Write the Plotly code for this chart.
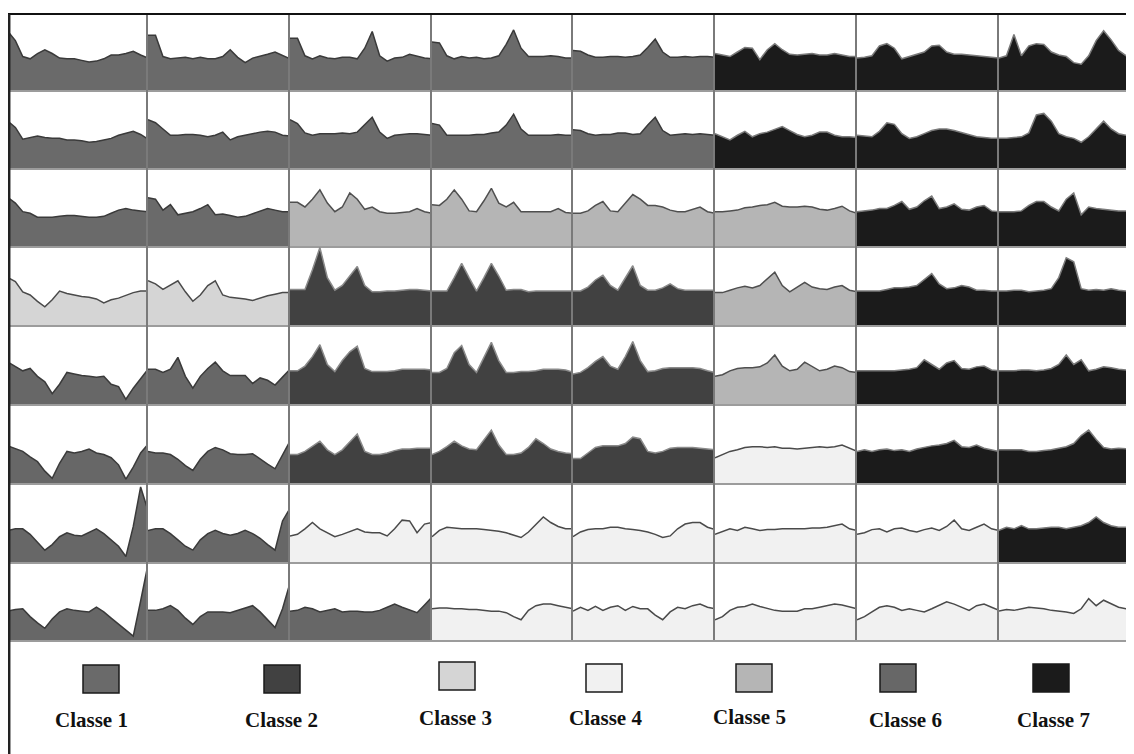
import plotly.graph_objects as go

# ---------------- data ----------------
class_names = ["Classe 1", "Classe 2", "Classe 3", "Classe 4", "Classe 5", "Classe 6", "Classe 7"]
class_fill = ["#6a6a6a", "#414141", "#d5d5d5", "#f1f1f1", "#b5b5b5", "#676767", "#1b1b1b"]
class_line = ["#3a3a3a", "#8a8a8a", "#4a4a4a", "#4a4a4a", "#4f4f4f", "#3a3a3a", "#7a7a7a"]

# class of each map cell (row by row)
cell_class = [
    [1, 1, 1, 1, 1, 7, 7, 7],
    [1, 1, 1, 1, 1, 7, 7, 7],
    [1, 1, 5, 5, 5, 5, 7, 7],
    [3, 3, 2, 2, 2, 5, 7, 7],
    [6, 6, 2, 2, 2, 5, 7, 7],
    [6, 6, 2, 2, 2, 4, 7, 7],
    [6, 6, 4, 4, 4, 4, 4, 7],
    [6, 6, 6, 4, 4, 4, 4, 4],
]

# profile of each cell (relative level, 20 samples)
row1_profiles = [
    [0.77, 0.65, 0.44, 0.41, 0.48, 0.53, 0.48, 0.42, 0.41, 0.41, 0.39, 0.37, 0.38, 0.41, 0.46, 0.46, 0.48, 0.51, 0.46, 0.42],
    [0.72, 0.72, 0.44, 0.41, 0.42, 0.43, 0.41, 0.43, 0.41, 0.41, 0.44, 0.53, 0.43, 0.36, 0.42, 0.44, 0.47, 0.50, 0.45, 0.41],
    [0.68, 0.68, 0.45, 0.41, 0.45, 0.42, 0.41, 0.43, 0.43, 0.41, 0.55, 0.77, 0.45, 0.38, 0.42, 0.43, 0.47, 0.44, 0.42, 0.41],
    [0.63, 0.62, 0.45, 0.41, 0.44, 0.42, 0.43, 0.41, 0.42, 0.45, 0.60, 0.79, 0.55, 0.44, 0.44, 0.44, 0.45, 0.44, 0.42, 0.42],
    [0.52, 0.51, 0.46, 0.43, 0.43, 0.44, 0.44, 0.43, 0.44, 0.46, 0.56, 0.67, 0.50, 0.43, 0.43, 0.44, 0.43, 0.44, 0.44, 0.43],
    [0.48, 0.46, 0.44, 0.50, 0.56, 0.55, 0.40, 0.53, 0.61, 0.53, 0.47, 0.46, 0.47, 0.48, 0.46, 0.46, 0.48, 0.46, 0.44, 0.44],
    [0.42, 0.43, 0.45, 0.58, 0.61, 0.55, 0.41, 0.44, 0.46, 0.50, 0.58, 0.59, 0.50, 0.47, 0.47, 0.46, 0.45, 0.44, 0.43, 0.42],
    [0.42, 0.45, 0.73, 0.45, 0.58, 0.61, 0.60, 0.50, 0.46, 0.44, 0.36, 0.34, 0.45, 0.65, 0.78, 0.66, 0.52, 0.45, 0.44, 0.42],
]
row2_profiles = [
    [0.60, 0.52, 0.37, 0.39, 0.41, 0.39, 0.38, 0.38, 0.36, 0.36, 0.35, 0.33, 0.34, 0.36, 0.38, 0.42, 0.45, 0.47, 0.43, 0.37],
    [0.62, 0.58, 0.50, 0.42, 0.42, 0.43, 0.43, 0.42, 0.40, 0.42, 0.46, 0.36, 0.40, 0.42, 0.44, 0.46, 0.47, 0.46, 0.42, 0.41],
    [0.62, 0.57, 0.45, 0.42, 0.44, 0.44, 0.44, 0.45, 0.44, 0.46, 0.55, 0.65, 0.46, 0.38, 0.42, 0.43, 0.44, 0.44, 0.43, 0.42],
    [0.57, 0.55, 0.42, 0.42, 0.42, 0.42, 0.43, 0.43, 0.45, 0.46, 0.55, 0.69, 0.50, 0.42, 0.42, 0.42, 0.42, 0.43, 0.42, 0.42],
    [0.49, 0.48, 0.44, 0.42, 0.43, 0.43, 0.45, 0.45, 0.43, 0.44, 0.55, 0.65, 0.48, 0.42, 0.43, 0.44, 0.43, 0.44, 0.43, 0.42],
    [0.44, 0.40, 0.36, 0.42, 0.47, 0.40, 0.44, 0.46, 0.50, 0.53, 0.48, 0.43, 0.40, 0.42, 0.46, 0.46, 0.42, 0.40, 0.40, 0.39],
    [0.42, 0.41, 0.40, 0.47, 0.58, 0.56, 0.44, 0.38, 0.40, 0.44, 0.48, 0.50, 0.50, 0.48, 0.45, 0.42, 0.40, 0.39, 0.38, 0.38],
    [0.38, 0.38, 0.39, 0.40, 0.45, 0.68, 0.70, 0.60, 0.44, 0.40, 0.38, 0.33, 0.40, 0.50, 0.60, 0.50, 0.44, 0.42, 0.41, 0.40],
]
row3_profiles = [
    [0.62, 0.55, 0.44, 0.42, 0.37, 0.37, 0.37, 0.38, 0.39, 0.39, 0.38, 0.37, 0.37, 0.38, 0.42, 0.46, 0.48, 0.46, 0.45, 0.44],
    [0.62, 0.60, 0.46, 0.53, 0.40, 0.42, 0.44, 0.48, 0.53, 0.40, 0.41, 0.39, 0.37, 0.38, 0.41, 0.44, 0.48, 0.46, 0.44, 0.44],
    [0.56, 0.56, 0.50, 0.60, 0.72, 0.55, 0.44, 0.50, 0.68, 0.60, 0.47, 0.50, 0.44, 0.42, 0.42, 0.43, 0.44, 0.48, 0.44, 0.42],
    [0.53, 0.52, 0.60, 0.72, 0.60, 0.45, 0.44, 0.58, 0.74, 0.55, 0.50, 0.56, 0.44, 0.44, 0.44, 0.44, 0.44, 0.48, 0.43, 0.42],
    [0.42, 0.42, 0.45, 0.52, 0.57, 0.45, 0.44, 0.55, 0.66, 0.60, 0.52, 0.52, 0.50, 0.46, 0.44, 0.44, 0.47, 0.50, 0.44, 0.42],
    [0.44, 0.44, 0.45, 0.46, 0.49, 0.50, 0.52, 0.53, 0.56, 0.51, 0.50, 0.50, 0.51, 0.50, 0.47, 0.46, 0.48, 0.51, 0.45, 0.42],
    [0.44, 0.45, 0.46, 0.48, 0.48, 0.52, 0.57, 0.47, 0.50, 0.58, 0.64, 0.48, 0.50, 0.54, 0.47, 0.46, 0.50, 0.52, 0.45, 0.44],
    [0.44, 0.44, 0.44, 0.45, 0.52, 0.57, 0.57, 0.50, 0.45, 0.60, 0.68, 0.40, 0.50, 0.48, 0.47, 0.46, 0.45, 0.45, 0.44, 0.44],
]
row4_profiles = [
    [0.60, 0.55, 0.42, 0.38, 0.30, 0.23, 0.32, 0.43, 0.40, 0.38, 0.36, 0.35, 0.33, 0.28, 0.32, 0.34, 0.38, 0.41, 0.43, 0.43],
    [0.56, 0.52, 0.45, 0.50, 0.56, 0.42, 0.30, 0.38, 0.50, 0.56, 0.38, 0.35, 0.34, 0.33, 0.31, 0.34, 0.37, 0.39, 0.41, 0.41],
    [0.45, 0.45, 0.45, 0.70, 0.98, 0.60, 0.44, 0.50, 0.62, 0.74, 0.50, 0.42, 0.42, 0.43, 0.43, 0.44, 0.45, 0.45, 0.44, 0.43],
    [0.43, 0.43, 0.43, 0.60, 0.78, 0.60, 0.43, 0.60, 0.78, 0.62, 0.44, 0.45, 0.45, 0.42, 0.43, 0.43, 0.43, 0.43, 0.43, 0.43],
    [0.43, 0.43, 0.48, 0.57, 0.63, 0.50, 0.44, 0.60, 0.75, 0.50, 0.44, 0.44, 0.47, 0.52, 0.46, 0.44, 0.44, 0.44, 0.44, 0.44],
    [0.41, 0.41, 0.44, 0.47, 0.49, 0.47, 0.50, 0.58, 0.67, 0.50, 0.42, 0.48, 0.54, 0.48, 0.46, 0.45, 0.48, 0.50, 0.44, 0.42],
    [0.43, 0.43, 0.43, 0.43, 0.45, 0.47, 0.47, 0.48, 0.50, 0.58, 0.65, 0.52, 0.46, 0.47, 0.50, 0.48, 0.44, 0.44, 0.43, 0.43],
    [0.43, 0.43, 0.44, 0.44, 0.42, 0.43, 0.44, 0.46, 0.60, 0.85, 0.80, 0.46, 0.44, 0.45, 0.44, 0.46, 0.44, 0.43, 0.43, 0.43],
]
row5_profiles = [
    [0.53, 0.48, 0.42, 0.45, 0.35, 0.28, 0.13, 0.25, 0.40, 0.38, 0.36, 0.35, 0.34, 0.35, 0.25, 0.22, 0.06, 0.20, 0.32, 0.44],
    [0.44, 0.44, 0.40, 0.44, 0.59, 0.35, 0.20, 0.35, 0.45, 0.53, 0.42, 0.36, 0.36, 0.36, 0.26, 0.33, 0.30, 0.24, 0.34, 0.44],
    [0.42, 0.42, 0.48, 0.60, 0.75, 0.50, 0.41, 0.55, 0.66, 0.73, 0.45, 0.41, 0.41, 0.41, 0.42, 0.44, 0.44, 0.44, 0.44, 0.43],
    [0.40, 0.40, 0.45, 0.65, 0.74, 0.50, 0.40, 0.60, 0.78, 0.55, 0.40, 0.40, 0.41, 0.41, 0.42, 0.44, 0.44, 0.44, 0.43, 0.40],
    [0.38, 0.40, 0.46, 0.54, 0.60, 0.48, 0.44, 0.60, 0.79, 0.55, 0.41, 0.42, 0.45, 0.46, 0.46, 0.46, 0.46, 0.45, 0.42, 0.40],
    [0.35, 0.37, 0.42, 0.45, 0.46, 0.46, 0.47, 0.52, 0.62, 0.48, 0.42, 0.44, 0.53, 0.47, 0.42, 0.44, 0.48, 0.46, 0.41, 0.40],
    [0.42, 0.42, 0.42, 0.42, 0.42, 0.42, 0.43, 0.44, 0.46, 0.56, 0.50, 0.44, 0.52, 0.55, 0.45, 0.44, 0.47, 0.48, 0.43, 0.42],
    [0.42, 0.42, 0.42, 0.43, 0.43, 0.42, 0.43, 0.45, 0.50, 0.62, 0.50, 0.56, 0.42, 0.44, 0.47, 0.46, 0.44, 0.43, 0.42, 0.42],
]
row6_profiles = [
    [0.47, 0.43, 0.40, 0.33, 0.27, 0.15, 0.06, 0.25, 0.40, 0.38, 0.40, 0.43, 0.38, 0.36, 0.32, 0.23, 0.05, 0.20, 0.38, 0.49],
    [0.40, 0.38, 0.38, 0.36, 0.30, 0.22, 0.16, 0.30, 0.40, 0.45, 0.42, 0.37, 0.36, 0.36, 0.37, 0.30, 0.24, 0.18, 0.36, 0.53],
    [0.36, 0.36, 0.40, 0.47, 0.53, 0.42, 0.36, 0.42, 0.52, 0.62, 0.40, 0.36, 0.36, 0.38, 0.41, 0.43, 0.43, 0.44, 0.44, 0.44],
    [0.36, 0.40, 0.46, 0.53, 0.47, 0.43, 0.42, 0.55, 0.67, 0.48, 0.36, 0.36, 0.38, 0.45, 0.56, 0.50, 0.43, 0.40, 0.38, 0.37],
    [0.31, 0.31, 0.38, 0.45, 0.47, 0.47, 0.47, 0.50, 0.58, 0.56, 0.40, 0.38, 0.40, 0.44, 0.45, 0.45, 0.45, 0.44, 0.43, 0.42],
    [0.32, 0.36, 0.40, 0.42, 0.45, 0.46, 0.46, 0.45, 0.46, 0.44, 0.44, 0.43, 0.44, 0.45, 0.46, 0.45, 0.46, 0.48, 0.44, 0.40],
    [0.40, 0.42, 0.40, 0.42, 0.43, 0.41, 0.42, 0.40, 0.43, 0.45, 0.47, 0.48, 0.50, 0.54, 0.46, 0.45, 0.48, 0.44, 0.42, 0.40],
    [0.42, 0.42, 0.42, 0.42, 0.40, 0.40, 0.41, 0.42, 0.44, 0.46, 0.50, 0.60, 0.67, 0.55, 0.45, 0.43, 0.44, 0.43, 0.42, 0.42],
]
row7_profiles = [
    [0.40, 0.42, 0.42, 0.35, 0.25, 0.15, 0.22, 0.32, 0.37, 0.34, 0.33, 0.37, 0.42, 0.36, 0.28, 0.20, 0.07, 0.45, 0.95, 0.65],
    [0.40, 0.42, 0.42, 0.36, 0.28, 0.20, 0.15, 0.28, 0.36, 0.40, 0.36, 0.34, 0.36, 0.40, 0.36, 0.30, 0.22, 0.15, 0.52, 0.68],
    [0.33, 0.35, 0.42, 0.50, 0.42, 0.37, 0.32, 0.35, 0.39, 0.42, 0.38, 0.37, 0.37, 0.33, 0.42, 0.53, 0.52, 0.37, 0.48, 0.50],
    [0.32, 0.40, 0.44, 0.43, 0.42, 0.42, 0.42, 0.41, 0.40, 0.39, 0.37, 0.34, 0.31, 0.38, 0.47, 0.57, 0.50, 0.45, 0.42, 0.42],
    [0.32, 0.38, 0.41, 0.42, 0.42, 0.44, 0.44, 0.42, 0.41, 0.40, 0.38, 0.35, 0.31, 0.33, 0.42, 0.48, 0.50, 0.50, 0.44, 0.41],
    [0.35, 0.38, 0.42, 0.40, 0.44, 0.42, 0.40, 0.41, 0.41, 0.42, 0.42, 0.42, 0.42, 0.43, 0.43, 0.44, 0.46, 0.48, 0.42, 0.40],
    [0.35, 0.37, 0.41, 0.42, 0.38, 0.42, 0.43, 0.40, 0.38, 0.41, 0.43, 0.40, 0.45, 0.53, 0.42, 0.40, 0.44, 0.48, 0.42, 0.40],
    [0.40, 0.44, 0.42, 0.46, 0.42, 0.42, 0.43, 0.44, 0.44, 0.42, 0.44, 0.46, 0.50, 0.57, 0.50, 0.46, 0.44, 0.44, 0.43, 0.42],
]
row8_profiles = [
    [0.37, 0.39, 0.40, 0.30, 0.22, 0.15, 0.27, 0.36, 0.40, 0.38, 0.37, 0.36, 0.42, 0.36, 0.28, 0.20, 0.12, 0.05, 0.50, 0.97],
    [0.38, 0.38, 0.40, 0.44, 0.38, 0.28, 0.20, 0.30, 0.36, 0.36, 0.36, 0.35, 0.38, 0.41, 0.44, 0.36, 0.26, 0.16, 0.40, 0.73],
    [0.37, 0.38, 0.42, 0.40, 0.36, 0.38, 0.40, 0.36, 0.37, 0.37, 0.36, 0.36, 0.38, 0.42, 0.46, 0.42, 0.38, 0.35, 0.45, 0.55],
    [0.40, 0.41, 0.41, 0.40, 0.40, 0.39, 0.39, 0.38, 0.37, 0.37, 0.35, 0.30, 0.26, 0.38, 0.44, 0.46, 0.46, 0.44, 0.42, 0.40],
    [0.37, 0.42, 0.38, 0.43, 0.38, 0.42, 0.44, 0.38, 0.43, 0.40, 0.40, 0.32, 0.26, 0.36, 0.42, 0.40, 0.44, 0.46, 0.42, 0.40],
    [0.26, 0.30, 0.38, 0.42, 0.43, 0.46, 0.43, 0.40, 0.38, 0.37, 0.37, 0.37, 0.40, 0.40, 0.42, 0.44, 0.46, 0.45, 0.42, 0.40],
    [0.26, 0.30, 0.36, 0.42, 0.44, 0.42, 0.38, 0.40, 0.38, 0.36, 0.40, 0.45, 0.49, 0.46, 0.42, 0.38, 0.44, 0.46, 0.42, 0.38],
    [0.37, 0.39, 0.38, 0.40, 0.42, 0.41, 0.40, 0.38, 0.37, 0.36, 0.34, 0.40, 0.53, 0.44, 0.51, 0.46, 0.42, 0.40, 0.38, 0.38],
]
profiles = [row1_profiles, row2_profiles, row3_profiles, row4_profiles,
            row5_profiles, row6_profiles, row7_profiles, row8_profiles]

# ---------------- layout geometry (page pixels) ----------------
PAGE_W, PAGE_H = 1134, 754
BODY = 8                      # default page body margin around the plot div
FIG_W, FIG_H = PAGE_W - BODY, PAGE_H - BODY
GRID_L, GRID_T = 8, 14        # page position of grid top-left
ML, MT = GRID_L - BODY, GRID_T - BODY
PW, PH = FIG_W - ML, FIG_H - MT
col_edges = [8, 148, 290, 432, 573, 715, 857, 999, 1141]   # last column cropped at page edge
row_edges = [14, 90, 168, 246, 325, 404, 483, 562, 640]

def px_x(p):
    return (p - GRID_L) / PW

def px_y(p):
    return (PAGE_H - p) / PH

fig = go.Figure()
layout_axes = {}
for r in range(8):
    for c in range(8):
        k = r * 8 + c + 1
        xa = "x" if k == 1 else f"x{k}"
        ya = "y" if k == 1 else f"y{k}"
        cls = cell_class[r][c] - 1
        prof = profiles[r][c]
        xs = list(range(len(prof)))
        fig.add_trace(go.Scatter(
            x=xs, y=prof, mode="lines", fill="tozeroy",
            fillcolor=class_fill[cls],
            line=dict(color=class_line[cls], width=1.5),
            xaxis=xa, yaxis=ya, hoverinfo="skip", showlegend=False,
        ))
        x0, x1 = col_edges[c], col_edges[c + 1]
        full_w = x1 - x0
        right = min(x1, PAGE_W)
        xmax = (len(prof) - 1) * (right - x0) / full_w
        xkey = "xaxis" if k == 1 else f"xaxis{k}"
        ykey = "yaxis" if k == 1 else f"yaxis{k}"
        layout_axes[xkey] = dict(
            domain=[px_x(x0), min(1.0, px_x(right))], range=[0, xmax], anchor=ya,
            showgrid=False, zeroline=False, showticklabels=False, ticks="",
            showline=True, linecolor="#9c9c9c", linewidth=2, fixedrange=True,
        )
        layout_axes[ykey] = dict(
            domain=[px_y(row_edges[r + 1]), px_y(row_edges[r])], range=[0, 1.0], anchor=xa,
            showgrid=False, zeroline=False, showticklabels=False, ticks="",
            showline=(c > 0), linecolor="#7a7a7a", linewidth=2, fixedrange=True,
        )

fig.update_layout(**layout_axes)

shapes = [
    dict(type="line", xref="paper", yref="paper", x0=0, x1=1, y0=1, y1=1,
         line=dict(color="#111111", width=2)),
    dict(type="line", xref="paper", yref="paper", x0=1.2 / PW, x1=1.2 / PW, y0=0, y1=1,
         line=dict(color="#222222", width=2.5)),
]

# legend
legend_box_cx = [101, 282, 457, 604, 754, 898, 1051]
legend_box_cy = [679, 679, 676, 678, 678, 678, 678]
legend_text_cx = [91, 281, 455, 605, 749, 905, 1053]
legend_text_cy = [720, 720, 718, 718, 717, 720, 720]
annotations = []
for i, name in enumerate(class_names):
    shapes.append(dict(
        type="rect", xref="paper", yref="paper",
        x0=px_x(legend_box_cx[i] - 18), x1=px_x(legend_box_cx[i] + 18),
        y0=px_y(legend_box_cy[i] + 14), y1=px_y(legend_box_cy[i] - 14),
        fillcolor=class_fill[i], line=dict(color="#1a1a1a", width=1.5),
    ))
    annotations.append(dict(
        text=name, xref="paper", yref="paper",
        x=px_x(legend_text_cx[i]), y=px_y(legend_text_cy[i]),
        xanchor="center", yanchor="middle", showarrow=False,
        font=dict(family="Liberation Serif", size=21, color="#111111", weight="bold"),
    ))

fig.update_layout(
    width=FIG_W, height=FIG_H,
    margin=dict(l=ML, r=0, t=MT, b=0, pad=0),
    paper_bgcolor="white", plot_bgcolor="white",
    shapes=shapes, annotations=annotations,
    showlegend=False,
)

fig.write_html("out.html", config={"displayModeBar": False})
